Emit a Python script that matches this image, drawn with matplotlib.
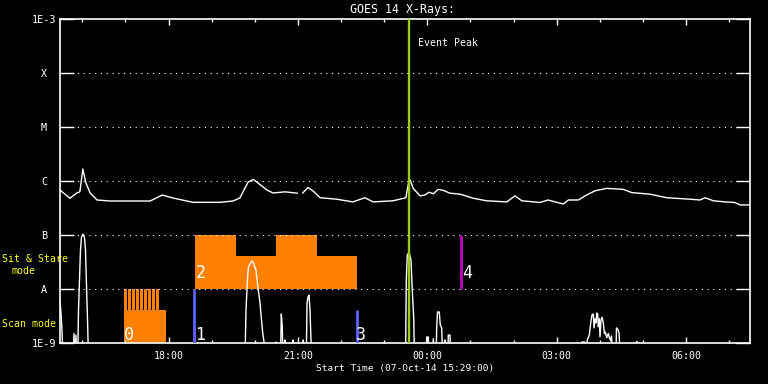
import matplotlib
matplotlib.use("Agg")
import numpy as np
import matplotlib.pyplot as plt

# ---------------- data ----------------
START_LABEL = "Start Time (07-Oct-14 15:29:00)"
start_hour = 15 + 29 / 60.0
span_hours = 16.0

# GOES long channel (1-8 A), hours since start, W/m^2 (nan = data gap)
long_t = [0.000, 0.230, 0.390, 0.460, 0.530, 0.600, 0.700, 0.860, 1.160, 2.090, 2.370, 2.620,
          3.080, 3.710, 4.010, 4.170, 4.360, 4.480, 4.590, 4.800, 4.940, 5.220, 5.500, 5.560,
          5.630, 5.750, 5.870, 6.030, 6.420, 6.790, 7.070, 7.260, 7.720, 7.880, 8.020, 8.080,
          8.120, 8.190, 8.350, 8.460, 8.560, 8.660, 8.770, 8.890, 9.040, 9.280, 9.580, 9.890,
          10.360, 10.550, 10.710, 11.130, 11.320, 11.480, 11.670, 11.790, 12.020, 12.210, 12.410,
          12.680, 13.060, 13.260, 13.680, 14.070, 14.610, 14.840, 14.960, 15.150, 15.420, 15.650,
          15.770, 16.000]
long_f = [6.8e-7, 4.8e-7, 6.0e-7, 6.3e-7, 1.67e-6, 9.2e-7, 6.0e-7, 4.45e-7, 4.26e-7, 4.26e-7, 5.5e-7, 4.84e-7,
          4.03e-7, 4.03e-7, 4.26e-7, 4.84e-7, 9.5e-7, 1.07e-6, 9.2e-7, 6.8e-7, 6.0e-7, 6.3e-7, 5.95e-7, np.nan,
          6.0e-7, 7.6e-7, 6.5e-7, 4.9e-7, 4.6e-7, 4.1e-7, 4.9e-7, 4.1e-7, 4.3e-7, 4.6e-7, 4.9e-7, 9.1e-7,
          1.04e-6, 7.3e-7, 5.3e-7, 5.5e-7, 6.2e-7, 5.8e-7, 7.0e-7, 6.7e-7, 5.95e-7, 5.7e-7, 4.8e-7, 4.3e-7,
          4.1e-7, 5.3e-7, 4.3e-7, 4.0e-7, 4.45e-7, 4.1e-7, 3.75e-7, 4.45e-7, 4.45e-7, 5.5e-7, 6.6e-7,
          7.3e-7, 7.0e-7, 6.1e-7, 5.7e-7, 4.9e-7, 4.6e-7, 4.45e-7, 4.9e-7, 4.3e-7, 4.1e-7, 4.0e-7,
          3.6e-7, 3.6e-7]

# GOES short channel (0.5-4 A); values below 1e-9 are off scale
short_t = [0.000, 0.023, 0.046, 0.070, 0.301, 0.325, 0.340, 0.371, 0.385, 0.410, 0.429, 0.452,
           0.475, 0.499, 0.533, 0.568, 0.591, 0.614, 0.638, 0.661, 4.290, 4.313, 4.343, 4.367,
           4.390, 4.423, 4.452, 4.482, 4.515, 4.545, 4.575, 4.608, 4.638, 4.668, 4.701, 4.731,
           4.754, 4.995, 5.009, 5.023, 5.113, 5.132, 5.155, 5.171, 5.205, 5.217, 5.230, 5.390,
           5.404, 5.418, 5.628, 5.641, 5.655, 5.711, 5.728, 5.751, 5.774, 5.797, 5.820, 5.840,
           8.012, 8.030, 8.053, 8.093, 8.139, 8.169, 8.202, 8.220, 8.490, 8.503, 8.541, 8.556,
           8.640, 8.656, 8.690, 8.720, 8.735, 8.754, 8.795, 8.818, 8.851, 8.874, 8.915, 8.928,
           8.941, 8.990, 9.004, 9.043, 9.058, 12.085, 12.097, 12.174, 12.200, 12.227, 12.274,
           12.306, 12.336, 12.367, 12.383, 12.406, 12.429, 12.446, 12.469, 12.483, 12.506, 12.522,
           12.545, 12.568, 12.598, 12.622, 12.645, 12.677, 12.714, 12.738, 12.770, 12.788, 12.820,
           12.890, 12.904, 12.941, 12.965, 12.988, 13.360, 13.375, 13.392, 16.000]
short_f = [6.0e-9, 3.6e-9, 1.74e-9, 5e-10, 5e-10, 1.5e-9, 5e-10, 1.4e-9, 5e-10, 5e-10, 4.1e-9, 1.47e-8,
           5.3e-8, 9.2e-8, 1.04e-7, 8.9e-8, 5.3e-8, 1.19e-8, 2.7e-9, 5e-10, 5e-10, 4.1e-9, 1.29e-8, 2.45e-8,
           2.78e-8, 3.03e-8, 3.3e-8, 3.16e-8, 2.55e-8, 2.25e-8, 1.35e-8, 8.4e-9, 5.5e-9, 2.9e-9, 1.53e-9, 1.04e-9,
           5e-10, 5e-10, 1.04e-9, 5e-10, 5e-10, 3.44e-9, 1.9e-9, 5e-10, 5e-10, 1.14e-9, 5e-10, 5e-10,
           1.14e-9, 5e-10, 5e-10, 1.14e-9, 5e-10, 5e-10, 5.5e-9, 7.1e-9, 7.7e-9, 4.1e-9, 1.14e-9, 5e-10,
           5e-10, 1.47e-8, 4.26e-8, 4.8e-8, 3.44e-8, 9.6e-9, 2.9e-9, 5e-10, 5e-10, 1.29e-9, 1.29e-9, 5e-10,
           5e-10, 1.2e-9, 5e-10, 5e-10, 2.0e-9, 3.75e-9, 3.75e-9, 2.15e-9, 1.9e-9, 5e-10, 5e-10, 1.14e-9,
           5e-10, 5e-10, 1.4e-9, 1.4e-9, 5e-10, 5e-10, 1.04e-9, 1.04e-9, 5e-10, 1.14e-9, 1.4e-9,
           2.35e-9, 3.3e-9, 3.44e-9, 1.9e-9, 2.8e-9, 2.35e-9, 3.6e-9, 3.4e-9, 2.0e-9, 2.8e-9, 1.3e-9,
           2.67e-9, 3.0e-9, 2.4e-9, 1.5e-9, 1.6e-9, 1.25e-9, 1.5e-9, 1.25e-9, 1.1e-9, 1.35e-9, 5e-10,
           5e-10, 1.9e-9, 1.75e-9, 1.5e-9, 5e-10, 5e-10, 1.07e-9, 5e-10, 5e-10]

# Observation modes
scan_starts = [1.484, 1.577, 1.670, 1.762, 1.855, 1.948, 2.041, 2.133, 2.226]
scan_width = 0.072
scan_block = [1.484, 2.458]          # start, end (hours)
scan_block_top = 4.1e-9
ss_edges = [3.130, 4.081, 5.009, 5.952, 6.887]
ss_tops = [1.0e-7, 4.1e-8, 1.0e-7, 4.1e-8]

event_labels = ["0", "1", "2", "3", "4"]
event_label_t = [1.47, 3.13, 3.14, 6.87, 9.33]
event_label_f = [1.14e-9, 1.14e-9, 1.6e-8, 1.14e-9, 1.6e-8]
mark_t = [3.110, 6.894, 9.300]
mark_lo = [1e-9, 1e-9, 1e-8]
mark_hi = [1e-8, 4.1e-9, 1e-7]
mark_col = ["#6262ff", "#6262ff", "#c000c0"]

peak_t = 8.093

tick_labels = ["18:00", "21:00", "00:00", "03:00", "06:00"]
level_vals = [1e-9, 1e-8, 1e-7, 1e-6, 1e-5, 1e-4, 1e-3]
level_labels = ["1E-9", "A", "B", "C", "M", "X", "1E-3"]

# ---------------- figure ----------------
plt.rcParams["font.family"] = ["DejaVu Sans Mono", "DejaVu Sans"]
W, H = 768, 384
fig = plt.figure(figsize=(W / 100, H / 100), dpi=100, facecolor="black")
ax = fig.add_axes([60 / W, 1 - 343 / H, 690 / W, 324 / H], facecolor="black")
ax.set_yscale("log")
ax.set_ylim(1e-9, 1e-3)
ax.set_xlim(0, span_hours)

orange = "#ff8000"
# scan mode comb + block
ax.bar(scan_starts, [1e-8 - 1e-9] * len(scan_starts), width=scan_width, bottom=1e-9,
       align="edge", color=orange, linewidth=0, zorder=1, antialiased=False)
ax.bar([scan_block[0]], [scan_block_top - 1e-9], width=scan_block[1] - scan_block[0],
       bottom=1e-9, align="edge", color=orange, linewidth=0, zorder=1, antialiased=False)
# sit & stare
widths = np.diff(ss_edges)
ax.bar(ss_edges[:-1], np.array(ss_tops) - 1e-8, width=widths, bottom=1e-8,
       align="edge", color=orange, linewidth=0, zorder=1, antialiased=False)

# dotted level lines
for lv in level_vals[1:-1]:
    ax.axhline(lv, color="white", lw=0.8, ls=(0, (1, 4.2)), zorder=1.5)

# curves
ax.plot(long_t, long_f, color="white", lw=1.0, zorder=3)
ax.plot(short_t, short_f, color="white", lw=1.0, zorder=3)

# event markers
for t, lo, hi, c in zip(mark_t, mark_lo, mark_hi, mark_col):
    ax.vlines(t, lo, hi, color=c, lw=2.0, zorder=4)
ax.axvline(peak_t, color="#9acd00", lw=1.7, zorder=5)
ax.text(peak_t + 0.21, 3.6e-4, "Event Peak", color="white", fontsize=7.1, va="center", ha="left")

for lab, t, f in zip(event_labels, event_label_t, event_label_f):
    ax.text(t, f, lab, color="white", fontsize=12, va="baseline", ha="left", zorder=6)

# axes styling
for s in ax.spines.values():
    s.set_color("white")
    s.set_linewidth(1.2)

def hours_since_start(lbl):
    hh, mm = lbl.split(":")
    return (int(hh) + int(mm) / 60.0 - start_hour) % 24

major_pos = [hours_since_start(l) for l in tick_labels]
minor_pos = [h for h in np.arange(1, 17) - 29 / 60.0 if 0 < h < span_hours]
ax.set_xticks(major_pos)
ax.set_xticklabels(tick_labels)
ax.set_xticks(minor_pos, minor=True)
ax.tick_params(axis="x", which="major", direction="in", length=4.5, width=1, color="white",
               top=True, bottom=True, labelcolor="white", labelsize=7.1, pad=5.5)
ax.tick_params(axis="x", which="minor", direction="in", length=2.3, width=1, color="white",
               top=True, bottom=True)

ax.set_yticks(level_vals)
ax.set_yticklabels(level_labels)
ax.yaxis.set_minor_locator(matplotlib.ticker.NullLocator())
ax.tick_params(axis="y", which="major", direction="in", length=10, width=1, color="white",
               left=True, right=True, labelcolor="white", labelsize=7.3, pad=11.5)
for lab in ax.get_yticklabels():
    lab.set_horizontalalignment("center")

# figure texts
fig.text(403 / W, 1 - 9 / H, "GOES 14 X-Rays:", color="white", fontsize=8.4, ha="center", va="center")
fig.text(405 / W, 1 - 368 / H, START_LABEL, color="white", fontsize=6.8, ha="center", va="center")
fig.text(2 / W, 1 - 259 / H, "Sit & Stare", color="yellow", fontsize=7.1, ha="left", va="center", zorder=10)
fig.text(12 / W, 1 - 271 / H, "mode", color="yellow", fontsize=7.1, ha="left", va="center", zorder=10)
fig.text(2 / W, 1 - 324 / H, "Scan mode", color="yellow", fontsize=7.1, ha="left", va="center", zorder=10)

fig.savefig("out.png", dpi=100, facecolor="black")
